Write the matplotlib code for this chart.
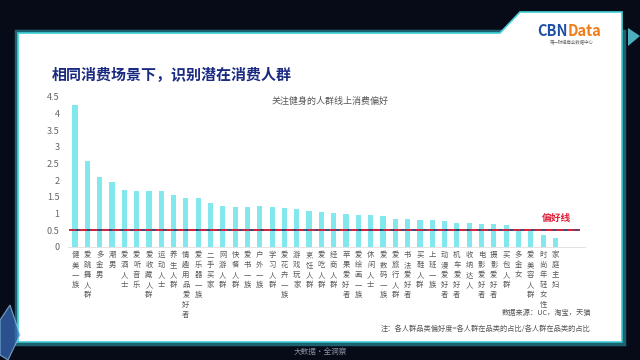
import matplotlib
matplotlib.use("Agg")
import matplotlib.pyplot as plt
from matplotlib.patches import Polygon, Rectangle
import numpy as np

plt.rcParams['font.family'] = ['Noto Sans CJK SC', 'DejaVu Sans']

categories = ["健美一族", "爱跳舞人群", "多金男", "潮男", "爱酒人士", "爱听音乐", "爱收藏人群",
              "运动人士", "养生人群", "情趣用品爱好者", "爱乐器一族", "二手买家", "网游人群",
              "快餐人群", "爱书一族", "户外一族", "学习人群", "爱花卉一族", "游戏玩家", "烹饪人群",
              "爱吃人群", "经商人群", "苹果爱好者", "爱绘画一族", "休闲人士", "爱数码一族",
              "爱旅行人群", "书法爱好者", "买鞋人群", "上班一族", "动漫爱好者", "机车爱好者",
              "收纳达人", "电影爱好者", "摄影爱好者", "买包人群", "多金女", "爱美容人群",
              "时尚年轻女性", "家庭主妇"]
values = [4.25, 2.58, 2.09, 1.94, 1.72, 1.69, 1.68, 1.68, 1.56, 1.48, 1.48, 1.31, 1.23,
          1.19, 1.21, 1.24, 1.19, 1.16, 1.14, 1.09, 1.04, 1.01, 0.99, 0.95, 0.95, 0.93,
          0.85, 0.84, 0.81, 0.80, 0.79, 0.72, 0.73, 0.69, 0.68, 0.67, 0.48, 0.47, 0.35, 0.28]
yticks = [0, 0.5, 1, 1.5, 2, 2.5, 3, 3.5, 4, 4.5]
ytick_labels = ["0", "0.5", "1", "1.5", "2", "2.5", "3", "3.5", "4", "4.5"]
pref_line = 0.5

W, H = 640, 360
fig = plt.figure(figsize=(6.4, 3.6), dpi=100)
fig.patch.set_facecolor('#070b18')

def P(x, y):
    return (x / W, 1 - y / H)

fig.patches.append(Rectangle(P(16, 344), 608 / W, (344 - 31) / H, transform=fig.transFigure,
                             facecolor='none', edgecolor='#2fb8c8', linewidth=2.5, alpha=0.5, zorder=-2))
panel = Polygon([P(18, 33), P(500, 33), P(520, 12), P(622, 12), P(622, 342), P(18, 342)],
                closed=True, transform=fig.transFigure, facecolor='white',
                edgecolor='#40d0d8', linewidth=1.2, zorder=-1)
fig.patches.append(panel)
fig.patches.append(Polygon([P(628, 28), P(640, 36), P(628, 46)], closed=True, transform=fig.transFigure,
                           facecolor='#5fd8e8', edgecolor='none', alpha=0.8))
fig.patches.append(Polygon([P(0, 320), P(10, 305), P(20, 335), P(8, 360), P(0, 355)], closed=True,
                           transform=fig.transFigure, facecolor='#3a70c0', edgecolor='#9ad0f0',
                           linewidth=0.8, alpha=0.7))

ax = fig.add_axes([68 / W, 113 / H, (585 - 68) / W, 150 / H])
ax.set_zorder(5)
ax.set_facecolor('none')
x = np.arange(len(categories))
ax.bar(x, values, width=0.42, color='#82e8ee', zorder=2)
ax.hlines(pref_line, -0.5, 41.0, colors='#1b2a5a', linewidth=1.2, zorder=3)
ax.hlines(pref_line, -0.5, 41.0, colors='#e0203a', linewidth=1.3, linestyles=(0, (4, 2)), zorder=4)
ax.set_xlim(-0.57, 41.4)
ax.set_ylim(0, 4.5)
ax.set_yticks(yticks)
ax.set_yticklabels(ytick_labels, fontsize=6.5, color='#666666')
ax.set_xticks(x)
ax.set_xticklabels(['\n'.join(c) for c in categories], fontsize=5.3, color='#5a5a5a',
                   linespacing=1.32, va='top')
ax.tick_params(axis='both', length=0, pad=3)
ax.tick_params(axis='y', pad=6)
for s in ['top', 'right', 'left']:
    ax.spines[s].set_visible(False)
ax.spines['bottom'].set_color('#dddddd')
ax.spines['bottom'].set_linewidth(0.6)

ax.text(39.1, 0.88, '偏好线', color='#e0203a', fontsize=7, fontweight='bold', ha='center', va='center')

fig.text(*P(52, 75), '相同消费场景下，识别潜在消费人群', fontsize=10.8, fontweight='bold',
         color='#1a2a80', va='center', ha='left')
fig.text(*P(330, 101), '关注健身的人群线上消费偏好', fontsize=6.5, color='#555555', va='center', ha='center')
fig.text(*P(591, 313), '数据来源：UC，淘宝，天猫', fontsize=5.2, color='#555555', va='center', ha='right')
fig.text(*P(591, 329), '注：各人群品类偏好度=各人群在品类的占比/各人群在品类的占比', fontsize=5.2,
         color='#555555', va='center', ha='right')
fig.text(*P(320, 352), '大数据·全洞察', fontsize=5.5, color='#8890a0', va='center', ha='center')

fig.text(*P(568, 31), 'CBN', fontsize=10.5, fontweight='bold', color='#1e50a8', va='center', ha='right')
fig.text(*P(568, 31), 'Data', fontsize=10.5, fontweight='bold', color='#f07d1a', va='center', ha='left')
fig.text(*P(572, 43), '第一财经商业数据中心', fontsize=3.2, color='#666666', va='center', ha='center')

fig.savefig('out.png', dpi=100, facecolor=fig.get_facecolor())
